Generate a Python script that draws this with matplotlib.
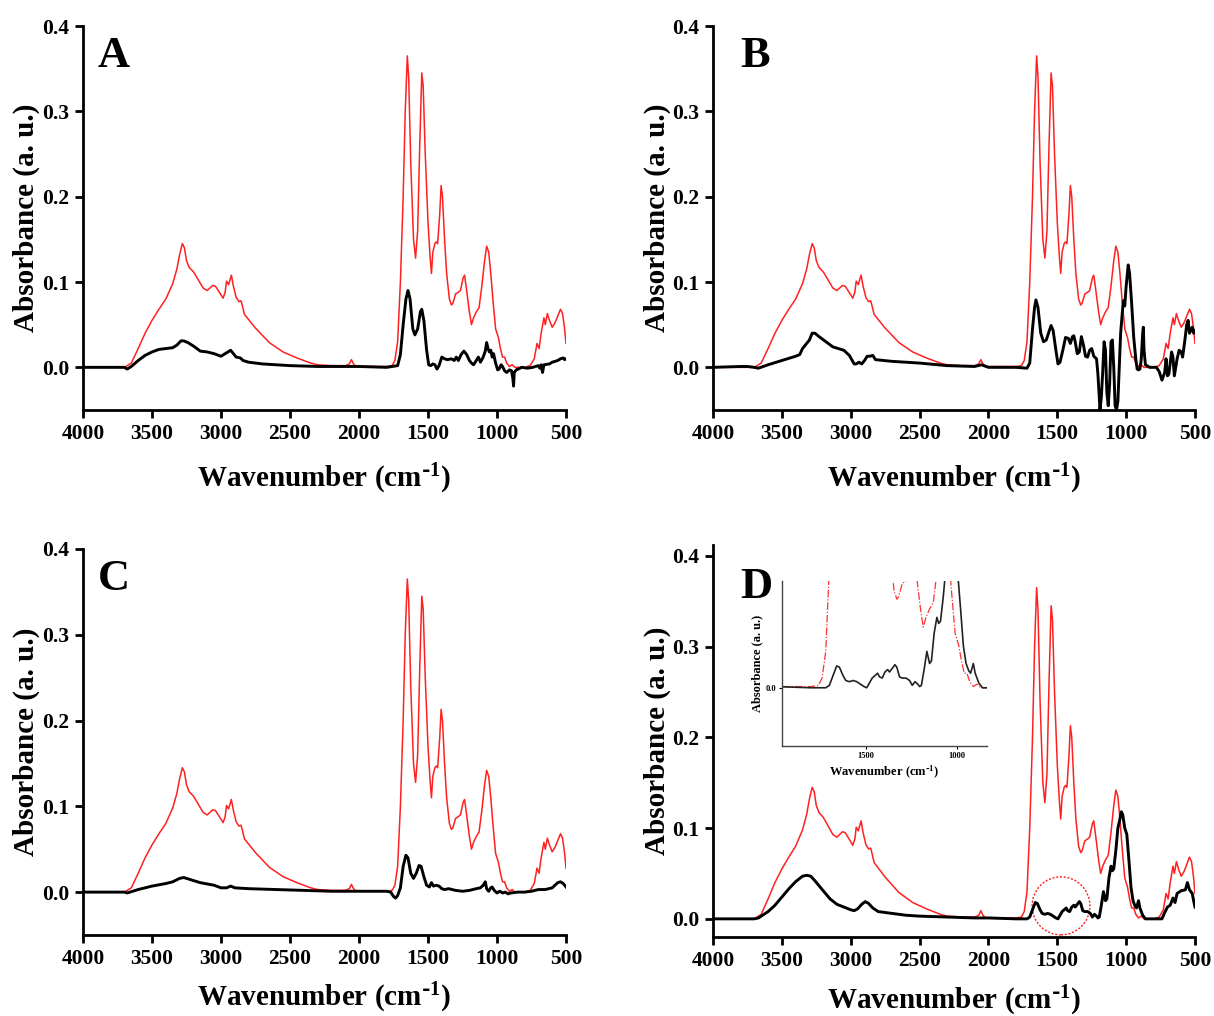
import matplotlib
matplotlib.use("Agg")
import matplotlib.pyplot as plt
from matplotlib.patches import Ellipse

plt.rcParams['font.family'] = ['Liberation Serif', 'DejaVu Serif']
plt.rcParams['font.weight'] = 'bold'
plt.rcParams['mathtext.default'] = 'regular'

# reference spectrum (red), same in every panel
red_wn = [4000, 3700, 3650, 3600, 3550, 3500, 3450, 3400, 3350, 3320, 3300, 3280, 3265, 3250, 3230,
          3200, 3170, 3130, 3100, 3060, 3040, 3000, 2985, 2970, 2960, 2945, 2925, 2910, 2890, 2870,
          2855, 2845, 2830, 2750, 2650, 2550, 2450, 2350, 2300, 2200, 2100, 2070, 2055, 2040, 2020,
          1900, 1800, 1760, 1740, 1720, 1700, 1680, 1665, 1650, 1640, 1625, 1605, 1590, 1575, 1560,
          1545, 1535, 1520, 1500, 1485, 1475, 1465, 1450, 1440, 1430, 1415, 1405, 1395, 1380, 1365,
          1345, 1330, 1320, 1300, 1280, 1265, 1245, 1235, 1220, 1200, 1185, 1170, 1150, 1130, 1110,
          1090, 1075, 1060, 1045, 1030, 1010, 990, 975, 960, 945, 930, 910, 890, 870, 800,
          760, 730, 710, 695, 680, 660, 650, 635, 620, 600, 580, 560, 540, 525, 510, 500]
red_abs = [0.0, 0.0, 0.005, 0.022, 0.040, 0.055, 0.068, 0.080, 0.098, 0.115, 0.132, 0.145, 0.140, 0.125, 0.117,
           0.112, 0.104, 0.093, 0.090, 0.096, 0.095, 0.085, 0.081, 0.088, 0.101, 0.097, 0.108, 0.095, 0.082, 0.077,
           0.078, 0.072, 0.062, 0.046, 0.029, 0.018, 0.011, 0.005, 0.003, 0.002, 0.002, 0.004, 0.009, 0.004, 0.001,
           0.001, 0.001, 0.002, 0.008, 0.030, 0.100, 0.200, 0.300, 0.365, 0.340, 0.240, 0.150, 0.128, 0.160, 0.260,
           0.345, 0.330, 0.250, 0.170, 0.130, 0.110, 0.135, 0.145, 0.147, 0.145, 0.180, 0.213, 0.200, 0.150, 0.110,
           0.080, 0.073, 0.075, 0.086, 0.088, 0.090, 0.105, 0.108, 0.090, 0.065, 0.050, 0.058, 0.065, 0.070, 0.095,
           0.125, 0.142, 0.135, 0.110, 0.080, 0.045, 0.035, 0.022, 0.012, 0.012, 0.005, 0.001, 0.003, 0.000, 0.000,
           0.002, 0.010, 0.028, 0.022, 0.040, 0.058, 0.050, 0.063, 0.055, 0.047, 0.052, 0.060, 0.068, 0.063, 0.045, 0.028]

# sample spectra (black)
a_wn = [4000, 3700, 3680, 3650, 3600, 3550, 3500, 3450, 3400, 3350, 3320, 3290, 3270, 3240, 3200,
        3150, 3100, 3050, 3000, 2970, 2950, 2930, 2915, 2890, 2860, 2840, 2800, 2700, 2600, 2500,
        2300, 2000, 1800, 1720, 1700, 1680, 1660, 1645, 1630, 1610, 1595, 1575, 1555, 1545, 1530,
        1510, 1495, 1480, 1465, 1450, 1435, 1420, 1400, 1380, 1360, 1330, 1310, 1295, 1280, 1260,
        1240, 1220, 1200, 1185, 1170, 1150, 1135, 1120, 1100, 1085, 1075, 1065, 1055, 1045, 1035,
        1025, 1010, 995, 985, 970, 960, 945, 930, 910, 895, 885, 880, 875, 860, 820,
        780, 740, 700, 690, 680, 670, 660, 620, 600, 580, 560, 540, 520, 510, 500]
a_abs = [0.0, 0.0, -0.002, 0.001, 0.008, 0.014, 0.018, 0.021, 0.022, 0.023, 0.026, 0.031, 0.031, 0.029, 0.025,
         0.019, 0.018, 0.016, 0.013, 0.016, 0.018, 0.020, 0.017, 0.012, 0.011, 0.008, 0.006, 0.004, 0.003, 0.002,
         0.001, 0.001, 0.000, 0.002, 0.015, 0.050, 0.080, 0.090, 0.080, 0.045, 0.038, 0.045, 0.065, 0.068, 0.055,
         0.020, 0.003, 0.002, 0.004, 0.003, -0.002, 0.002, 0.012, 0.010, 0.009, 0.010, 0.008, 0.012, 0.008, 0.015,
         0.019, 0.015, 0.008, 0.005, 0.003, 0.008, 0.012, 0.006, 0.012, 0.019, 0.029, 0.022, 0.018, 0.020, 0.012,
         0.016, 0.005, -0.003, -0.002, 0.003, 0.001, -0.004, -0.006, -0.003, -0.004, -0.013, -0.022, -0.006, -0.003, 0.000,
         -0.001, 0.000, 0.002, -0.001, 0.003, -0.006, 0.003, 0.004, 0.006, 0.007, 0.008, 0.010, 0.011, 0.009, 0.010]

b_wn = [4000, 3800, 3750, 3700, 3670, 3600, 3500, 3400, 3370, 3350, 3320, 3300, 3280, 3260, 3230,
        3180, 3130, 3050, 3010, 2975, 2960, 2940, 2920, 2900, 2880, 2860, 2840, 2820, 2700, 2500,
        2300, 2100, 2050, 2000, 1800, 1720, 1700, 1680, 1665, 1655, 1640, 1620, 1600, 1580, 1560,
        1545, 1530, 1510, 1495, 1480, 1460, 1440, 1420, 1405, 1390, 1380, 1370, 1355, 1340, 1325,
        1310, 1295, 1280, 1265, 1250, 1235, 1215, 1205, 1195, 1190, 1180, 1170, 1160, 1150, 1140,
        1130, 1120, 1110, 1100, 1090, 1080, 1070, 1060, 1050, 1040, 1030, 1020, 1010, 1000, 985,
        975, 960, 945, 930, 920, 910, 900, 890, 880, 875, 870, 860, 830, 780, 760,
        740, 720, 710, 700, 690, 670, 660, 650, 630, 615, 600, 590, 575, 560, 550,
        540, 520, 510, 500]
b_abs = [0.0, 0.001, 0.001, 0.000, -0.001, 0.003, 0.008, 0.013, 0.015, 0.022, 0.028, 0.032, 0.040, 0.040, 0.036,
         0.030, 0.024, 0.020, 0.014, 0.004, 0.004, 0.006, 0.004, 0.008, 0.013, 0.013, 0.014, 0.009, 0.007, 0.005,
         0.002, 0.001, 0.003, 0.000, 0.000, -0.001, 0.005, 0.045, 0.070, 0.079, 0.070, 0.040, 0.030, 0.032, 0.042,
         0.049, 0.043, 0.020, 0.004, 0.006, 0.020, 0.035, 0.034, 0.028, 0.036, 0.037, 0.030, 0.016, 0.018, 0.036,
         0.026, 0.013, 0.012, 0.020, 0.022, 0.013, 0.010, -0.008, -0.035, -0.050, -0.035, -0.005, 0.030, 0.020, -0.030,
         -0.045, -0.020, 0.030, 0.032, 0.000, -0.045, -0.050, -0.040, 0.000, 0.040, 0.060, 0.078, 0.072, 0.095, 0.120,
         0.110, 0.075, 0.035, 0.010, -0.002, -0.003, -0.002, 0.010, 0.040, 0.047, 0.020, 0.003, 0.000, 0.000, -0.005,
         -0.015, -0.006, 0.010, -0.010, -0.008, 0.018, 0.012, -0.010, 0.010, 0.020, 0.018, 0.012, 0.030, 0.050, 0.055,
         0.040, 0.047, 0.040, 0.043]

c_wn = [4000, 3700, 3680, 3600, 3500, 3400, 3350, 3300, 3270, 3230, 3150, 3050, 3000, 2960, 2930,
        2900, 2800, 2600, 2400, 2200, 2000, 1800, 1770, 1750, 1735, 1720, 1700, 1680, 1660, 1645,
        1625, 1605, 1585, 1565, 1550, 1530, 1510, 1490, 1475, 1460, 1440, 1420, 1400, 1380, 1350,
        1300, 1250, 1200, 1150, 1120, 1100, 1085, 1075, 1060, 1045, 1035, 1020, 1000, 980, 960,
        940, 920, 900, 850, 800, 750, 700, 650, 600, 560, 540, 520, 500]
c_abs = [0.0, 0.000, -0.001, 0.003, 0.007, 0.010, 0.012, 0.016, 0.017, 0.015, 0.011, 0.008, 0.005, 0.005, 0.007,
         0.005, 0.004, 0.003, 0.002, 0.001, 0.001, 0.001, 0.000, -0.005, -0.007, -0.004, 0.005, 0.030, 0.043, 0.040,
         0.022, 0.016, 0.022, 0.031, 0.030, 0.018, 0.008, 0.006, 0.011, 0.007, 0.008, 0.007, 0.004, 0.003, 0.004,
         0.002, 0.001, 0.002, 0.004, 0.005, 0.008, 0.012, 0.004, 0.001, 0.005, 0.006, 0.002, -0.001, 0.001, -0.001,
         0.000, -0.002, -0.001, 0.000, 0.000, 0.001, 0.003, 0.003, 0.005, 0.011, 0.012, 0.010, 0.006]

d_wn = [4000, 3800, 3700, 3670, 3600, 3550, 3500, 3450, 3400, 3350, 3320, 3290, 3260, 3200, 3150,
        3100, 3050, 3000, 2975, 2950, 2920, 2895, 2870, 2840, 2800, 2700, 2600, 2500, 2300, 2100,
        2000, 1800, 1720, 1700, 1680, 1660, 1645, 1625, 1610, 1590, 1570, 1550, 1530, 1510, 1495,
        1480, 1465, 1450, 1435, 1425, 1410, 1395, 1380, 1370, 1355, 1340, 1330, 1315, 1300, 1280,
        1260, 1245, 1230, 1215, 1205, 1195, 1180, 1165, 1150, 1140, 1125, 1110, 1100, 1090, 1075,
        1060, 1045, 1035, 1025, 1010, 995, 980, 965, 950, 935, 925, 910, 900, 880, 860,
        800, 740, 720, 700, 680, 660, 645, 630, 600, 570, 555, 540, 520, 510, 500]
d_abs = [0.0, 0.000, 0.000, 0.001, 0.008, 0.015, 0.024, 0.033, 0.041, 0.047, 0.048, 0.047, 0.042, 0.031, 0.022,
         0.016, 0.013, 0.010, 0.009, 0.011, 0.016, 0.019, 0.017, 0.012, 0.008, 0.006, 0.004, 0.003, 0.002, 0.001,
         0.001, 0.000, 0.000, 0.002, 0.010, 0.018, 0.017, 0.010, 0.006, 0.005, 0.006, 0.005, 0.003, 0.001, 0.000,
         0.004, 0.008, 0.010, 0.012, 0.009, 0.008, 0.013, 0.015, 0.013, 0.016, 0.019, 0.017, 0.009, 0.008, 0.008,
         0.006, 0.002, 0.005, 0.003, 0.001, 0.002, 0.015, 0.030, 0.020, 0.022, 0.045, 0.058, 0.053, 0.055, 0.075,
         0.100, 0.110, 0.118, 0.115, 0.100, 0.093, 0.065, 0.035, 0.020, 0.014, 0.012, 0.020, 0.012, 0.004, 0.000,
         0.000, 0.000, 0.007, 0.013, 0.015, 0.023, 0.018, 0.028, 0.031, 0.032, 0.040, 0.032, 0.028, 0.020, 0.013]

panels = [("A", a_wn, a_abs), ("B", b_wn, b_abs), ("C", c_wn, c_abs), ("D", d_wn, d_abs)]

W, H = 1214, 1016
fig = plt.figure(figsize=(W / 100, H / 100), dpi=100)

XLABEL = 'Wavenumber (cm$^{\\text{-}1}$)'

# axes boxes in pixels: left, top, right, bottom
boxes = {"A": (83, 26, 566, 410), "B": (713, 26, 1195, 410),
         "C": (83, 549, 566, 935), "D": (713, 545, 1195, 937)}
letter_x = {"A": 0.03, "B": 0.056, "C": 0.03, "D": 0.056}
letter_y = {"A": 0.975, "B": 0.975, "C": 0.975, "D": 0.945}

for name, wn, ab in panels:
    l, t, r, b = boxes[name]
    ax = fig.add_axes([l / W, 1 - b / H, (r - l) / W, (b - t) / H])
    ax.plot(red_wn, red_abs, color='#ff2020', lw=1.1)
    ax.plot(wn, ab, color='black', lw=2.1)
    ax.set_xlim(4000, 500)
    if name == "D":
        ax.set_ylim(-0.02, 0.412)
    else:
        ax.set_ylim(-0.05, 0.4)
    ax.set_xticks([4000, 3500, 3000, 2500, 2000, 1500, 1000, 500])
    ax.set_yticks([0.0, 0.1, 0.2, 0.3, 0.4])
    ax.yaxis.set_major_formatter(matplotlib.ticker.FormatStrFormatter('%.1f'))
    for s in ['top', 'right']:
        ax.spines[s].set_visible(False)
    for s in ['left', 'bottom']:
        ax.spines[s].set_linewidth(2.0)
    ax.tick_params(direction='out', length=6, width=2, labelsize=15.5, pad=4)
    ax.set_xlabel(XLABEL, fontsize=21, fontweight='bold')
    ax.set_ylabel('Absorbance (a. u.)', fontsize=21, fontweight='bold')
    ax.xaxis.set_label_coords(0.5, -0.12 if name in ("C", "D") else -0.135)
    ax.yaxis.set_label_coords(-0.088, 0.5)
    ax.text(letter_x[name], letter_y[name], name, transform=ax.transAxes,
            fontsize=32, fontweight='bold', va='top', ha='left')
    if name == "D":
        # dotted circle marking the 1700-1300 region
        ax.add_patch(Ellipse((1473, 0.0143), 420, 0.064, fill=False,
                             edgecolor='#ff2020', lw=1.0, ls=(0, (1.5, 1.2))))
        ins = fig.add_axes([782 / W, 1 - 746 / H, 205 / W, 165 / H])
        ins.plot(red_wn, red_abs, color='#ff3030', lw=0.9, ls=(0, (6, 1.5, 1, 1.5)))
        ins.plot(wn, ab, color='#222222', lw=1.2)
        ins.set_xlim(1960, 835)
        ins.set_ylim(-0.048, 0.088)
        ins.set_xticks([1500, 1000])
        ins.set_yticks([0.0])
        ins.yaxis.set_major_formatter(matplotlib.ticker.FormatStrFormatter('%.1f'))
        for s in ['top', 'right']:
            ins.spines[s].set_visible(False)
        for s in ['left', 'bottom']:
            ins.spines[s].set_linewidth(1.0)
            ins.spines[s].set_color('#444444')
        ins.tick_params(direction='out', length=2, width=0.8, labelsize=6, pad=2)
        ins.set_xlabel(XLABEL, fontsize=9, fontweight='bold', labelpad=3)
        ins.set_ylabel('Absorbance (a. u.)', fontsize=9, fontweight='bold', labelpad=2)

fig.savefig('out.png', dpi=100)
